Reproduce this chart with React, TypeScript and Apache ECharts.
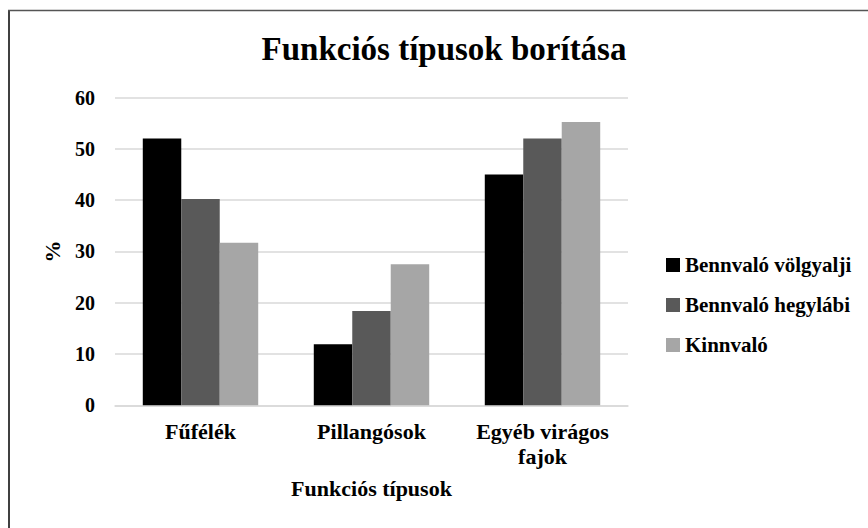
import React, { useEffect, useRef } from "react";
import * as echarts from "echarts";

const categories = ["Fűfélék", "Pillangósok", "Egyéb virágos\nfajok"];
const seriesNames = ["Bennvaló völgyalji", "Bennvaló hegylábi", "Kinnvaló"];
const volgyalji = [52.0, 11.9, 45.0];
const hegylabi = [40.2, 18.4, 52.0];
const kinnvalo = [31.7, 27.5, 55.2];
const colors = ["#000000", "#595959", "#a6a6a6"];

const FONT = "'Liberation Serif', 'Times New Roman', serif";

export default function App() {
  const ref = useRef<HTMLDivElement>(null);
  useEffect(() => {
    if (!ref.current) return;
    const chart = echarts.init(ref.current, undefined, { renderer: "svg" });
    const data = [volgyalji, hegylabi, kinnvalo];
    chart.setOption({
      animation: false,
      backgroundColor: "#ffffff",
      textStyle: { fontFamily: FONT },
      title: {
        text: "Funkciós típusok borítása",
        left: 444,
        textAlign: "center",
        top: 32,
        padding: 0,
        textStyle: { fontFamily: FONT, fontWeight: "bold", fontSize: 33, color: "#000" },
      },
      legend: {
        orient: "vertical",
        left: 666,
        top: 254,
        itemWidth: 14,
        itemHeight: 14,
        itemGap: 18,
        icon: "rect",
        padding: 0,
        data: seriesNames,
        textStyle: { fontFamily: FONT, fontWeight: "bold", fontSize: 21, lineHeight: 22, color: "#000" },
      },
      grid: { left: 115, right: 240, top: 97.5, bottom: 122.7, containLabel: false },
      xAxis: {
        type: "category",
        data: categories,
        name: "Funkciós típusok",
        nameLocation: "middle",
        nameGap: 72,
        nameTextStyle: { fontFamily: FONT, fontWeight: "bold", fontSize: 22, color: "#000" },
        axisLine: { lineStyle: { color: "#d9d9d9", width: 1.5 } },
        axisTick: { show: false },
        axisLabel: {
          interval: 0,
          margin: 14,
          lineHeight: 25,
          fontFamily: FONT,
          fontWeight: "bold",
          fontSize: 22,
          color: "#000",
        },
      },
      yAxis: {
        type: "value",
        min: 0,
        max: 60,
        interval: 10,
        name: "%",
        nameLocation: "middle",
        nameGap: 52,
        nameTextStyle: { fontFamily: FONT, fontWeight: "bold", fontSize: 22, color: "#000" },
        axisLine: { show: false },
        axisTick: { show: false },
        axisLabel: { margin: 20, fontFamily: FONT, fontWeight: "bold", fontSize: 20, color: "#000" },
        splitLine: { lineStyle: { color: "#d9d9d9", width: 1.5 } },
      },
      series: seriesNames.map((name, i) => ({
        name,
        type: "bar",
        data: data[i],
        barGap: "0%",
        barCategoryGap: "32.5%",
        itemStyle: { color: colors[i] },
      })),
      graphic: [
        {
          type: "line",
          shape: { x1: 9, y1: 10.5, x2: 9, y2: 540 },
          style: { stroke: "#404040", lineWidth: 2 },
        },
        {
          type: "line",
          shape: { x1: 8, y1: 10.5, x2: 880, y2: 10.5 },
          style: { stroke: "#555555", lineWidth: 1.5 },
        },
      ],
    });
    return () => chart.dispose();
  }, []);
  return <div ref={ref} style={{ position: "fixed", left: 0, top: 0, width: 868, height: 528 }} />;
}
